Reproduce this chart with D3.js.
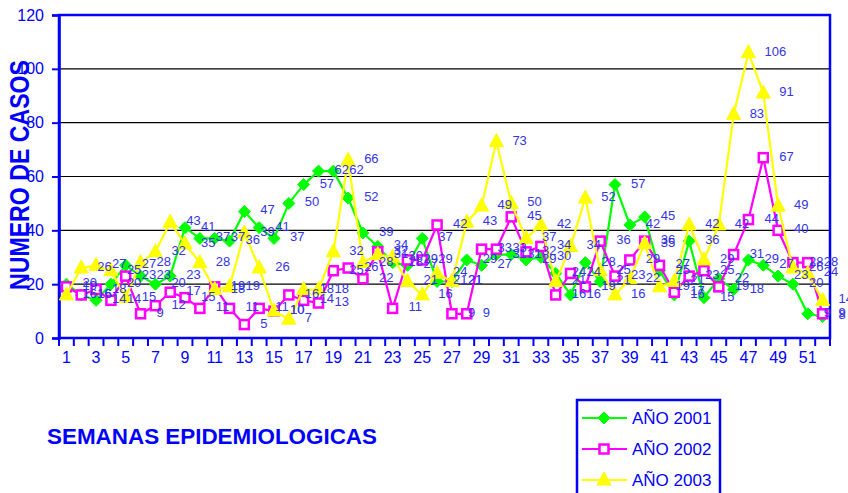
<!DOCTYPE html>
<html>
<head>
<meta charset="utf-8">
<script src="https://cdn.jsdelivr.net/npm/d3@7"></script>
<style>
  body { margin: 0; background: #fff; }
  svg { display: block; font-family: Arial, "Liberation Sans", sans-serif; }
</style>
</head>
<body>
<div id="chart"></div>
<script>
// weeks 1..52
var weeks = d3.range(1, 53);
var yTicks = [0, 20, 40, 60, 80, 100, 120];
var seriesNames = ["AÑO 2001", "AÑO 2002", "AÑO 2003"];

var casos2001 = [20, 16, 14, 20, 27, 23, 20, 23, 41, 37, 37, 36, 47, 41, 37, 50, 57, 62, 62, 52,
                 39, 34, 28, 27, 37, 21, 21, 29, 27, 31, 31, 29, 30, 24, 16, 28, 21, 57, 42, 45,
                 25, 16, 36, 15, 22, 18, 29, 27, 23, 20, 9, 8];
var casos2002 = [19, 16, 18, 14, 23, 9, 12, 17, 15, 11, 19, 11, 5, 11, 10, 16, 14, 13, 25, 26,
                 22, 32, 11, 29, 29, 42, 9, 9, 33, 33, 45, 32, 34, 16, 24, 19, 36, 23, 29, 36,
                 27, 17, 23, 25, 19, 31, 44, 67, 40, 28, 28, 9];
var casos2003 = [16, 26, 27, 25, 15, 28, 32, 43, 35, 28, 18, 19, 39, 26, 10, 7, 18, 18, 32, 66,
                 28, 31, 30, 21, 16, 24, 21, 43, 49, 73, 50, 37, 42, 21, 34, 52, 25, 16, 22, 35,
                 19, 21, 42, 29, 42, 83, 106, 91, 49, 26, 24, 14];

var W = 848, H = 493;
var plotL = 59, plotR = 830, plotT = 15, plotB = 338;
var blue = "#0000ff";
var labelBlue = "#3434e8";

var svg = d3.select("#chart").append("svg")
    .attr("width", W)
    .attr("height", H);

var x = d3.scaleBand().domain(weeks).range([plotL, plotR]).paddingInner(0).paddingOuter(0);
var y = d3.scaleLinear().domain([0, 120]).range([plotB, plotT]);
var cx = d => x(d) + x.bandwidth() / 2;

//gridlines
svg.append("g")
    .selectAll("line")
    .data(yTicks.filter(v => v > 0 && v < 120))
    .enter().append("line")
    .attr("x1", plotL).attr("x2", plotR)
    .attr("y1", d => y(d)).attr("y2", d => y(d))
    .attr("stroke", "#000").attr("stroke-width", 1.2);

//plot border
svg.append("rect")
    .attr("x", plotL).attr("y", plotT)
    .attr("width", plotR - plotL).attr("height", plotB - plotT)
    .attr("fill", "none").attr("stroke", blue).attr("stroke-width", 2.5);

//y axis
var yAxis = svg.append("g")
    .attr("transform", "translate(" + plotL + ",0)")
    .call(d3.axisLeft(y).tickValues(yTicks).tickSize(7).tickPadding(8));
yAxis.select(".domain").attr("stroke", blue).attr("stroke-width", 2.5);
yAxis.selectAll(".tick line").attr("stroke", blue).attr("stroke-width", 2);
yAxis.selectAll(".tick text").attr("fill", blue).attr("font-size", "16px")
    .attr("font-family", "Arial, 'Liberation Sans', sans-serif");

//x axis: labels on odd weeks, ticks between categories
var xAxis = svg.append("g")
    .attr("transform", "translate(0," + plotB + ")")
    .call(d3.axisBottom(x).tickSize(0).tickPadding(14).tickFormat(d => d % 2 == 1 ? d : ""));
xAxis.select(".domain").remove();
xAxis.selectAll(".tick text").attr("fill", blue).attr("font-size", "16px")
    .attr("font-family", "Arial, 'Liberation Sans', sans-serif");

svg.append("g")
    .selectAll("line")
    .data(weeks.concat([53]))
    .enter().append("line")
    .attr("x1", d => d == 53 ? plotR : x(d))
    .attr("x2", d => d == 53 ? plotR : x(d))
    .attr("y1", plotB).attr("y2", plotB + 8)
    .attr("stroke", blue).attr("stroke-width", 2);

//axis titles
svg.append("text")
    .attr("transform", "translate(29,175) rotate(-90)")
    .attr("text-anchor", "middle")
    .attr("font-size", "27px")
    .attr("font-weight", "bold")
    .attr("fill", blue)
    .attr("textLength", 230)
    .attr("lengthAdjust", "spacingAndGlyphs")
    .text("NUMERO DE CASOS");

svg.append("text")
    .attr("x", 47).attr("y", 444)
    .attr("font-size", "22px")
    .attr("font-weight", "bold")
    .attr("fill", blue)
    .attr("textLength", 330)
    .attr("lengthAdjust", "spacingAndGlyphs")
    .text("SEMANAS EPIDEMIOLOGICAS");

//series
var series = [
    {name: seriesNames[0], values: casos2001, color: "#00ff00", marker: "diamond"},
    {name: seriesNames[1], values: casos2002, color: "#ff00ff", marker: "square"},
    {name: seriesNames[2], values: casos2003, color: "#ffff00", marker: "triangle"}
];

var line = d3.line()
    .x((d, i) => cx(weeks[i]))
    .y(d => y(d));

function drawMarker(g, type, color, px, py) {
    if (type == "diamond") {
        g.append("path")
            .attr("d", "M" + px + "," + (py - 6) + "L" + (px + 6) + "," + py + "L" + px + "," + (py + 6) + "L" + (px - 6) + "," + py + "Z")
            .attr("fill", color).attr("stroke", color).attr("stroke-width", 1);
    } else if (type == "square") {
        g.append("rect")
            .attr("x", px - 4.5).attr("y", py - 4.5)
            .attr("width", 9).attr("height", 9)
            .attr("fill", "#fff").attr("stroke", color).attr("stroke-width", 2.5);
    } else {
        g.append("path")
            .attr("d", "M" + px + "," + (py - 8) + "L" + (px + 7) + "," + (py + 5) + "L" + (px - 7) + "," + (py + 5) + "Z")
            .attr("fill", color).attr("stroke", color).attr("stroke-width", 1);
    }
}

series.forEach(function(s) {
    var g = svg.append("g");
    g.append("path")
        .datum(s.values)
        .attr("fill", "none")
        .attr("stroke", s.color)
        .attr("stroke-width", 2.2)
        .attr("stroke-linejoin", "round")
        .attr("d", line);
    s.values.forEach(function(v, i) {
        drawMarker(g, s.marker, s.color, cx(weeks[i]), y(v));
    });
});

//data labels
series.forEach(function(s) {
    svg.append("g")
        .selectAll("text")
        .data(s.values)
        .enter().append("text")
        .attr("x", (d, i) => cx(weeks[i]) + 16)
        .attr("y", d => y(d) + 3)
        .attr("font-size", "13px")
        .attr("fill", labelBlue)
        .text(d => d);
});

//legend
var lg = svg.append("g");
lg.append("rect")
    .attr("x", 577).attr("y", 400)
    .attr("width", 143).attr("height", 100)
    .attr("fill", "#fff").attr("stroke", blue).attr("stroke-width", 2.5);
series.forEach(function(s, i) {
    var ly = 418 + i * 31;
    lg.append("line")
        .attr("x1", 582).attr("x2", 627)
        .attr("y1", ly).attr("y2", ly)
        .attr("stroke", s.color).attr("stroke-width", 2.2);
    drawMarker(lg, s.marker, s.color, 604, ly);
    lg.append("text")
        .attr("x", 632).attr("y", ly + 6)
        .attr("font-size", "17px")
        .attr("fill", blue)
        .text(s.name);
});
</script>
</body>
</html>
